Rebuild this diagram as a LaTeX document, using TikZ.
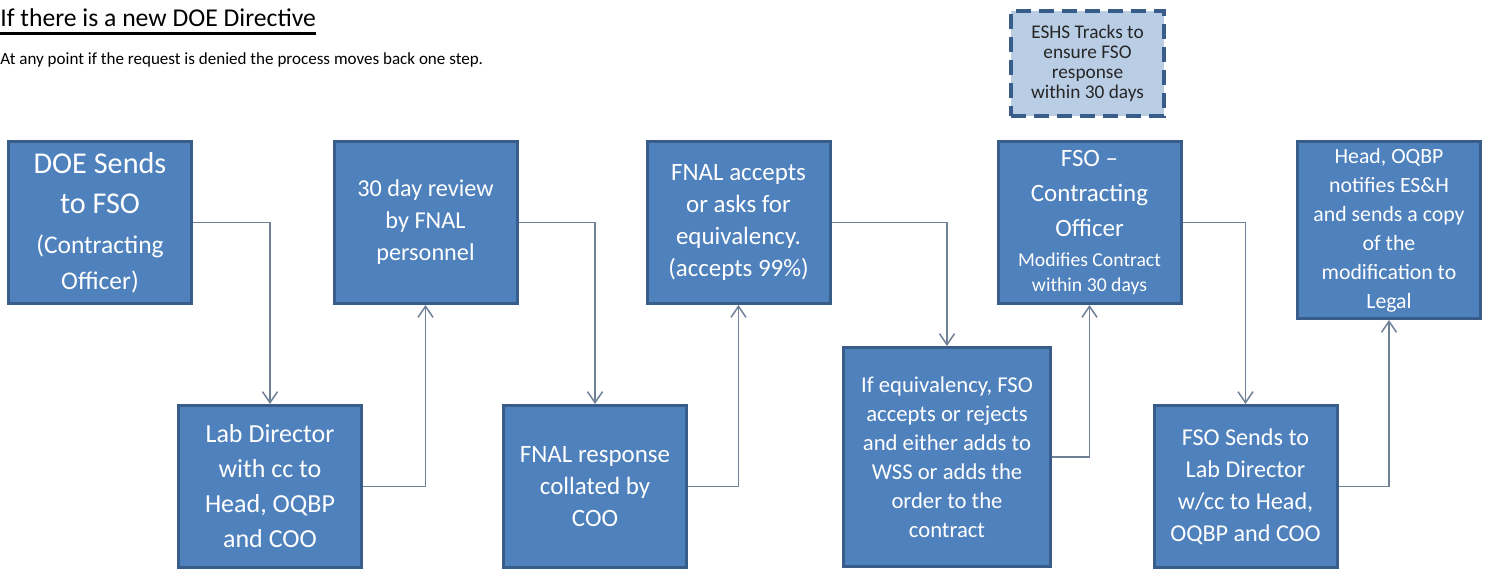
\documentclass[tikz,border=0pt]{standalone}
\usepackage{fontspec}
\setmainfont{Carlito}
\usetikzlibrary{arrows.meta,calc}
\definecolor{boxblue}{HTML}{4F81BD}
\definecolor{boxedge}{HTML}{385D8A}
\definecolor{notefill}{HTML}{B9CDE5}
\definecolor{linkgray}{RGB}{112,128,150}
\def\fs#1#2{\fontsize{#1}{#2}\selectfont}
\tikzset{
  stepbox/.style={draw=boxedge, fill=boxblue, line width=0.06cm, text=white,
    align=center, inner sep=0pt, minimum width=3.66cm, minimum height=3.24cm},
  notebox/.style={draw=boxedge, fill=notefill, line width=0.08cm,
    dash pattern=on 0.3cm off 0.16cm, align=center, inner sep=0pt,
    minimum width=3.06cm, minimum height=2.1cm, text=black!85},
  link/.style={draw=linkgray, line width=0.03cm,
    -{Straight Barb[length=0.22cm,width=0.3cm]}}
}

\begin{document}
\begin{tikzpicture}
		%%%%% START %%%%%
		\useasboundingbox (0,0) rectangle (29.78,-11.38);
		
		\node[anchor=base west, inner sep=0pt, font=\fs{14.6}{18}] (title) at (0,-0.54) {If there is a new DOE Directive};
		\draw[line width=0.045cm] ($(title.base west)+(0,-0.13)$) -- ($(title.base east)+(0,-0.13)$);
		\node[anchor=base west, inner sep=0pt, font=\fs{9.7}{12}] (note) at (0,-1.30) {At any point if the request is denied the process moves back one step.};
		
		% top row
		\node[stepbox, font=\fs{17.2}{23}] (doe) at (2.00,-4.45) {DOE Sends\\to FSO\\\fs{14.5}{18}(Contracting\\[-0.1cm]\fs{14.5}{18}Officer)};
		\node[stepbox, font=\fs{13.8}{18.2}] (rev) at (8.51,-4.45) {30 day review\\by FNAL\\personnel};
		\node[stepbox, font=\fs{14.2}{18.2}] (acc) at (14.77,-4.45) {FNAL accepts\\or asks for\\equivalency.\\(accepts 99\%)};
		\node[stepbox, font=\fs{14.2}{19.9}] (fso) at (21.79,-4.45) {FSO --\\Contracting\\Officer\\[-0.09cm]\fs{11.2}{14.2}Modifies Contract\\[-0.2cm]\fs{11.2}{14.2}within 30 days};
		\node[stepbox, font=\fs{12.4}{16.5}, minimum height=3.54cm] (head) at (27.78,-4.60) {Head, OQBP\\notifies ES\&H\\and sends a copy\\of the\\modification to\\Legal};
		
		% bottom row
		\node[stepbox, font=\fs{14.8}{19.9}] (lab) at (5.40,-9.73) {Lab Director\\with cc to\\Head, OQBP\\and COO};
		\node[stepbox, font=\fs{14.2}{18.2}] (resp) at (11.90,-9.73) {FNAL response\\collated by\\COO};
		\node[stepbox, font=\fs{12.9}{16.5}, minimum width=4.14cm, minimum height=4.38cm] (equiv) at (18.94,-9.14) {If equivalency, FSO\\accepts or rejects\\and either adds to\\WSS or adds the\\order to the\\contract};
		\node[stepbox, font=\fs{13.75}{18.2}] (sends) at (24.91,-9.73) {FSO Sends to\\Lab Director\\w/cc to Head,\\OQBP and COO};
		
		\node[notebox, font=\fs{11}{11.4}] (eshs) at (21.75,-1.27) {ESHS Tracks to\\ensure FSO\\response\\within 30 days};
		
		% connectors
		\draw[link] (doe) -| (lab);
		\draw[link] (lab) -| (rev);
		\draw[link] (rev) -| (resp);
		\draw[link] (resp) -| (acc);
		\draw[link] (acc) -| (equiv);
		\draw[link] (equiv) -| (fso);
		\draw[link] (fso) -| (sends);
		\draw[link] (sends) -| (head);
		%%%%% END %%%%%
\end{tikzpicture}
\end{document}
